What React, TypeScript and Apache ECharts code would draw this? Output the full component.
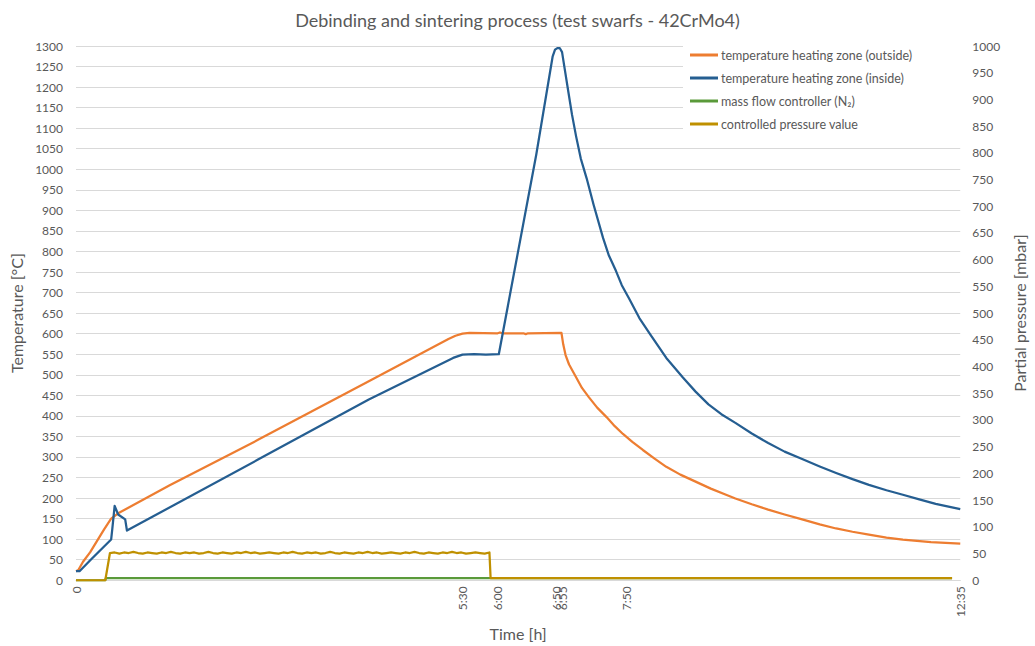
import React, { useEffect, useRef } from "react";
import * as echarts from "echarts";

const title = "Debinding and sintering process (test swarfs - 42CrMo4)";
const seriesNames = [
  "temperature heating zone (outside)",
  "temperature heating zone (inside)",
  "mass flow controller (N₂)",
  "controlled pressure value",
];
const xLabelValues = [0, 330, 360, 410, 415, 470, 755];

// [time in minutes, °C]
const outsideTemp = [
  [0, 22], [2, 25], [6, 45], [12, 68], [24, 124], [30, 150], [36, 163], [80, 231], [155, 341],
  [250, 484], [318, 587], [324, 595], [330, 600], [336, 602], [360, 601], [362, 603], [364, 601],
  [382, 601], [384, 599], [386, 601], [414.5, 602], [416, 574], [418, 548], [421, 525], [427, 494],
  [432, 468], [438, 445], [445, 420], [453, 397], [460, 375], [467, 356], [475, 337], [484, 317],
  [494, 296], [504, 276], [516, 257], [529, 240], [542, 223], [555, 208], [563, 199], [577, 185],
  [591, 172], [605, 160], [620, 148], [635, 136], [649, 126], [663, 118], [677, 111], [692, 104],
  [706, 99], [730, 93], [755, 89],
];

const insideTemp = [
  [0, 22], [3, 22], [13, 51], [30, 99], [31, 125], [33, 181], [36, 160], [42, 148],
  [43.5, 121], [155, 293], [250, 440], [322, 541], [330, 549], [340, 550], [350, 549],
  [361, 550], [393, 1036], [407, 1275], [409, 1291], [411, 1295], [413, 1295], [415, 1285],
  [417.5, 1240], [420.4, 1188], [423.5, 1133], [427, 1080], [431, 1026], [436, 978],
  [442, 913], [450, 833], [455, 790], [461, 753], [466, 718], [472, 687], [481, 638],
  [491, 595], [504, 541], [518, 494], [529, 459], [540, 428], [551, 404], [563, 383],
  [577, 357], [591, 334], [605, 313], [620, 295], [635, 277], [649, 261], [663, 246],
  [677, 232], [692, 219], [706, 208], [720, 197], [734, 186], [755, 173],
];

// [time in minutes, value on the pressure axis]
const massFlow = [
  [0, 0], [25, 0], [25.5, 4], [748, 4],
];

const pressure = [
  [0, 0], [25, 0], [29, 51], [33, 52], [37, 50], [41, 52], [45, 51], [49, 53], [53, 51],
  [57, 50], [61, 52], [65, 51], [69, 50], [73, 52], [77, 51], [81, 53], [85, 51], [89, 50],
  [93, 52], [97, 51], [101, 52], [105, 50], [109, 51], [113, 53], [117, 51], [121, 50],
  [125, 52], [129, 51], [133, 50], [137, 52], [141, 51], [145, 53], [149, 51], [153, 52],
  [157, 50], [161, 51], [165, 52], [169, 51], [173, 50], [177, 52], [181, 51], [185, 53],
  [189, 51], [193, 50], [197, 52], [201, 51], [205, 52], [209, 50], [213, 51], [217, 53],
  [221, 51], [225, 50], [229, 52], [233, 51], [237, 50], [241, 52], [245, 51], [249, 53],
  [253, 51], [257, 52], [261, 50], [265, 51], [269, 52], [273, 51], [277, 50], [281, 52],
  [285, 51], [289, 53], [293, 51], [297, 50], [301, 52], [305, 51], [309, 50], [313, 52],
  [317, 51], [321, 53], [325, 51], [329, 52], [333, 50], [337, 51], [341, 52], [345, 51],
  [349, 50], [353, 52], [354, 4], [748, 4],
];

const colors = ["#ED7D31", "#255E91", "#5A9A3A", "#BF9000"];
const FONT = "Lato, 'Open Sans', sans-serif";
const GRAY = "#595959";

function fmtTime(v: number) {
  if (v === 0) return "0";
  const h = Math.floor(v / 60);
  const m = Math.round(v % 60);
  return `${h}:${String(m).padStart(2, "0")}`;
}

export default function App() {
  const ref = useRef<HTMLDivElement>(null);
  useEffect(() => {
    document.body.style.margin = "0";
    const chart = echarts.init(ref.current!, null, { renderer: "svg" });
    const dataSets = [outsideTemp, insideTemp, massFlow, pressure];
    chart.setOption({
      animation: false,
      backgroundColor: "#ffffff",
      textStyle: { fontFamily: FONT },
      title: {
        text: title,
        left: "center",
        top: 6,
        textStyle: { fontFamily: FONT, fontSize: 18, fontWeight: "normal", color: GRAY },
      },
      legend: {
        orient: "vertical",
        left: 683,
        top: 38,
        padding: [9, 60, 12, 7],
        backgroundColor: "#ffffff",
        itemWidth: 28,
        itemHeight: 3,
        itemGap: 7,
        icon: "rect",
        data: seriesNames,
        textStyle: { fontFamily: FONT, fontSize: 12.5, color: GRAY, lineHeight: 16, padding: [0, 0, 0, -2] },
      },
      grid: { left: 76, width: 887, top: 46, height: 538, containLabel: false },
      xAxis: {
        type: "value",
        min: 0,
        max: 755,
        name: "Time [h]",
        nameLocation: "middle",
        nameGap: 43,
        nameTextStyle: { fontFamily: FONT, fontSize: 16, color: GRAY },
        axisLine: { show: true, lineStyle: { color: "#d9d9d9", width: 1 } },
        axisTick: { show: false },
        splitLine: { show: false },
        axisLabel: {
          customValues: xLabelValues,
          rotate: 90,
          margin: 6,
          fontFamily: FONT,
          fontSize: 12,
          color: GRAY,
          formatter: (v: number) => fmtTime(v),
        },
      },
      yAxis: [
        {
          type: "value",
          min: 0,
          max: 1300,
          interval: 50,
          name: "Temperature [°C]",
          nameLocation: "middle",
          nameGap: 42,
          nameRotate: 90,
          nameTextStyle: { fontFamily: FONT, fontSize: 16, color: GRAY },
          axisLine: { show: false },
          axisTick: { show: false },
          splitLine: { show: true, lineStyle: { color: "#d9d9d9", width: 1 } },
          axisLabel: { fontFamily: FONT, fontSize: 12, color: GRAY, margin: 13, formatter: (v: number) => String(v) },
        },
        {
          type: "value",
          position: "right",
          min: 0,
          max: 1000,
          interval: 50,
          name: "Partial pressure [mbar]",
          nameLocation: "middle",
          nameGap: 40,
          nameRotate: 90,
          nameTextStyle: { fontFamily: FONT, fontSize: 16, color: GRAY },
          axisLine: { show: false },
          axisTick: { show: false },
          splitLine: { show: false },
          axisLabel: { fontFamily: FONT, fontSize: 12, color: GRAY, margin: 12, formatter: (v: number) => String(v) },
        },
      ],
      series: seriesNames.map((name, i) => ({
        name,
        type: "line",
        yAxisIndex: i < 2 ? 0 : 1,
        data: dataSets[i],
        showSymbol: false,
        symbol: "none",
        color: colors[i],
        lineStyle: { width: 2.25, color: colors[i], join: "round" },
        z: 2 + i,
      })),
    });
    return () => chart.dispose();
  }, []);
  return <div ref={ref} style={{ width: 1035, height: 646 }} />;
}
